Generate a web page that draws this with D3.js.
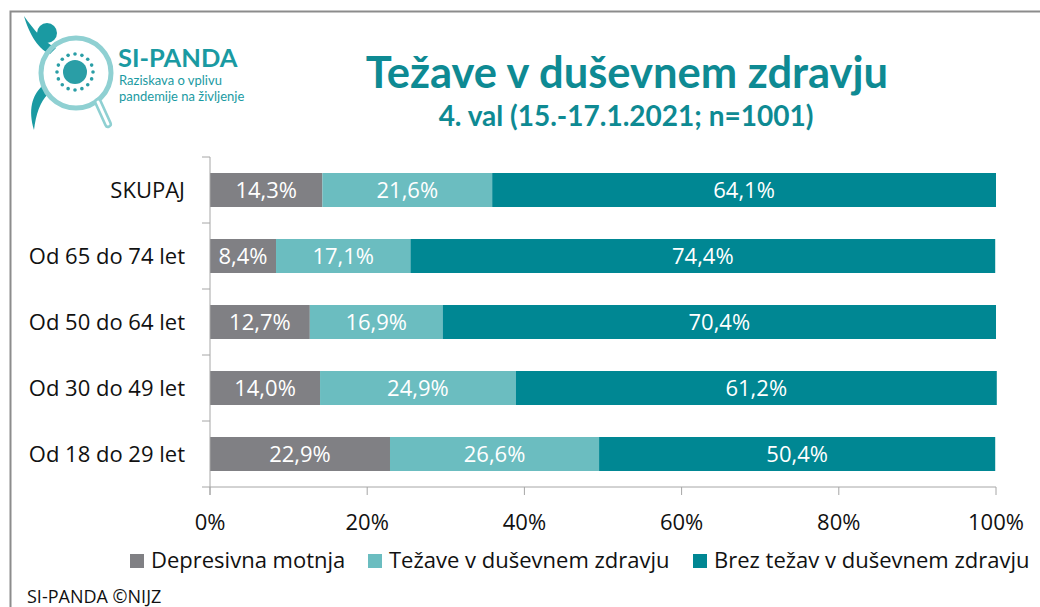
<!DOCTYPE html>
<html>
<head>
<meta charset="utf-8">
<script src="https://cdn.jsdelivr.net/npm/d3@7"></script>
<style>
  body { margin: 0; background: #fff; }
  svg text { font-family: "Open Sans", "Noto Sans", sans-serif; }
  svg text.lato { font-family: Lato, "Noto Sans", sans-serif; }
</style>
</head>
<body>
<div id="chart"></div>
<script>
// data
var categories = ["SKUPAJ", "Od 65 do 74 let", "Od 50 do 64 let", "Od 30 do 49 let", "Od 18 do 29 let"];
var seriesNames = ["Depresivna motnja", "Težave v duševnem zdravju", "Brez težav v duševnem zdravju"];
var depresivna = [14.3, 8.4, 12.7, 14.0, 22.9];
var tezave = [21.6, 17.1, 16.9, 24.9, 26.6];
var brez = [64.1, 74.4, 70.4, 61.2, 50.4];
var xTicks = [0, 20, 40, 60, 80, 100];
var colors = ["#808084", "#6bbdc0", "#008793"];

var W = 1040, H = 607;
var margin = {top: 157, left: 210};
var width = 996 - margin.left, height = 487 - margin.top;

var svg = d3.select("#chart").append("svg")
  .attr("width", W).attr("height", H);

// frame
svg.append("path")
  .attr("d", "M10.5," + H + "V11.5H" + W)
  .attr("fill", "none").attr("stroke", "#8c8c8c").attr("stroke-width", 2);

// logo (approximation)
var logo = svg.append("g");
logo.append("circle").attr("cx", 47).attr("cy", 33).attr("r", 10).attr("fill", "#1a9aa2");
logo.append("path").attr("d", "M24,16 C28,30 36,48 50,54 L56,48 C44,42 34,30 24,16Z").attr("fill", "#1a9aa2");
logo.append("path").attr("d", "M42,86 C32,96 28,110 34,130 C36,114 40,102 48,94Z").attr("fill", "#1a9aa2");
logo.append("circle").attr("cx", 76).attr("cy", 73).attr("r", 35)
  .attr("fill", "none").attr("stroke", "#8fd0d2").attr("stroke-width", 5);
logo.append("line").attr("x1", 98).attr("y1", 102).attr("x2", 108).attr("y2", 124)
  .attr("stroke", "#8fd0d2").attr("stroke-width", 8).attr("stroke-linecap", "round");
logo.append("line").attr("x1", 98).attr("y1", 102).attr("x2", 108).attr("y2", 124)
  .attr("stroke", "#fff").attr("stroke-width", 3).attr("stroke-linecap", "round");
logo.append("circle").attr("cx", 75).attr("cy", 72).attr("r", 12).attr("fill", "#2a9ea6");
d3.range(16).forEach(function(i) {
  var a = i / 16 * 2 * Math.PI;
  logo.append("circle").attr("cx", 75 + Math.cos(a) * 18).attr("cy", 72 + Math.sin(a) * 18)
    .attr("r", 1.8).attr("fill", "#2a9ea6");
});
logo.append("text").attr("class", "lato").attr("x", 118).attr("y", 67).attr("fill", "#1a9aa2")
  .style("font-size", "25.5px").style("font-weight", "bold").text("SI-PANDA");
logo.append("text").attr("class", "lato").attr("x", 119).attr("y", 85).attr("fill", "#1a9aa2")
  .style("font-size", "13px").text("Raziskava o vplivu");
logo.append("text").attr("class", "lato").attr("x", 119).attr("y", 101).attr("fill", "#1a9aa2")
  .style("font-size", "13px").text("pandemije na življenje");

// titles
svg.append("text").attr("class", "lato").attr("x", 627).attr("y", 88).attr("text-anchor", "middle")
  .attr("fill", "#0e8a93").style("font-size", "43.5px").style("font-weight", "bold")
  .text("Težave v duševnem zdravju");
svg.append("text").attr("class", "lato").attr("x", 626).attr("y", 126).attr("text-anchor", "middle")
  .attr("fill", "#0e8a93").style("font-size", "28px").style("font-weight", "bold")
  .text("4. val (15.-17.1.2021; n=1001)");

var g = svg.append("g").attr("transform", "translate(" + margin.left + "," + margin.top + ")");

var x = d3.scaleLinear().domain([0, 100]).range([0, width]);
var y = d3.scaleBand().domain(categories).range([0, height]).paddingInner(0.485).paddingOuter(0.2425);

// stack
var rows = categories.map(function(c, i) {
  return {cat: c, s0: depresivna[i], s1: tezave[i], s2: brez[i]};
});
var stack = d3.stack().keys(["s0", "s1", "s2"])(rows);

stack.forEach(function(layer, k) {
  var lg = g.append("g");
  lg.selectAll("rect").data(layer).enter().append("rect")
    .attr("x", function(d) { return x(d[0]); })
    .attr("y", function(d) { return y(d.data.cat); })
    .attr("width", function(d) { return x(d[1]) - x(d[0]); })
    .attr("height", y.bandwidth())
    .attr("fill", colors[k]);
  lg.selectAll("text").data(layer).enter().append("text")
    .attr("x", function(d) { return (x(d[0]) + x(d[1])) / 2; })
    .attr("y", function(d) { return y(d.data.cat) + y.bandwidth() / 2 + 8; })
    .attr("text-anchor", "middle").attr("fill", "#fff")
    .style("font-size", "22px")
    .text(function(d) { return (d[1] - d[0]).toFixed(1).replace(".", ",") + "%"; });
});

// y axis
var yBounds = d3.scaleLinear().domain([0, categories.length]).range([0, height]);
var yAxis = g.append("g");
yAxis.append("line").attr("x1", 0).attr("x2", 0).attr("y1", 0).attr("y2", height + 8)
  .attr("stroke", "#a6a6a6");
yAxis.selectAll(".yt").data(d3.range(categories.length + 1)).enter().append("line")
  .attr("x1", -8).attr("x2", 0)
  .attr("y1", function(d) { return yBounds(d); }).attr("y2", function(d) { return yBounds(d); })
  .attr("stroke", "#a6a6a6");
yAxis.selectAll(".yl").data(categories).enter().append("text")
  .attr("x", -25).attr("y", function(d) { return y(d) + y.bandwidth() / 2 + 8; })
  .attr("text-anchor", "end").attr("fill", "#111").style("font-size", "22px")
  .text(function(d) { return d; });

// x axis
var xAxis = g.append("g").attr("transform", "translate(0," + height + ")");
xAxis.append("line").attr("x1", 0).attr("x2", width).attr("stroke", "#a6a6a6");
xAxis.selectAll(".xt").data(xTicks).enter().append("line")
  .attr("x1", function(d) { return x(d); }).attr("x2", function(d) { return x(d); })
  .attr("y1", 0).attr("y2", 8).attr("stroke", "#a6a6a6");
xAxis.selectAll(".xl").data(xTicks).enter().append("text")
  .attr("x", function(d) { return x(d); }).attr("y", 43)
  .attr("text-anchor", "middle").attr("fill", "#111").style("font-size", "22px")
  .text(function(d) { return d + "%"; });

// legend
var legX = [130, 368, 693];
var leg = svg.append("g");
seriesNames.forEach(function(n, i) {
  leg.append("rect").attr("x", legX[i]).attr("y", 554).attr("width", 14).attr("height", 14)
    .attr("fill", colors[i]);
  leg.append("text").attr("x", legX[i] + 21).attr("y", 568).attr("fill", "#111")
    .style("font-size", "22px").text(n);
});

// footer
svg.append("text").attr("x", 27).attr("y", 603).attr("fill", "#111")
  .style("font-size", "18px").text("SI-PANDA ©NIJZ");
</script>
</body>
</html>
